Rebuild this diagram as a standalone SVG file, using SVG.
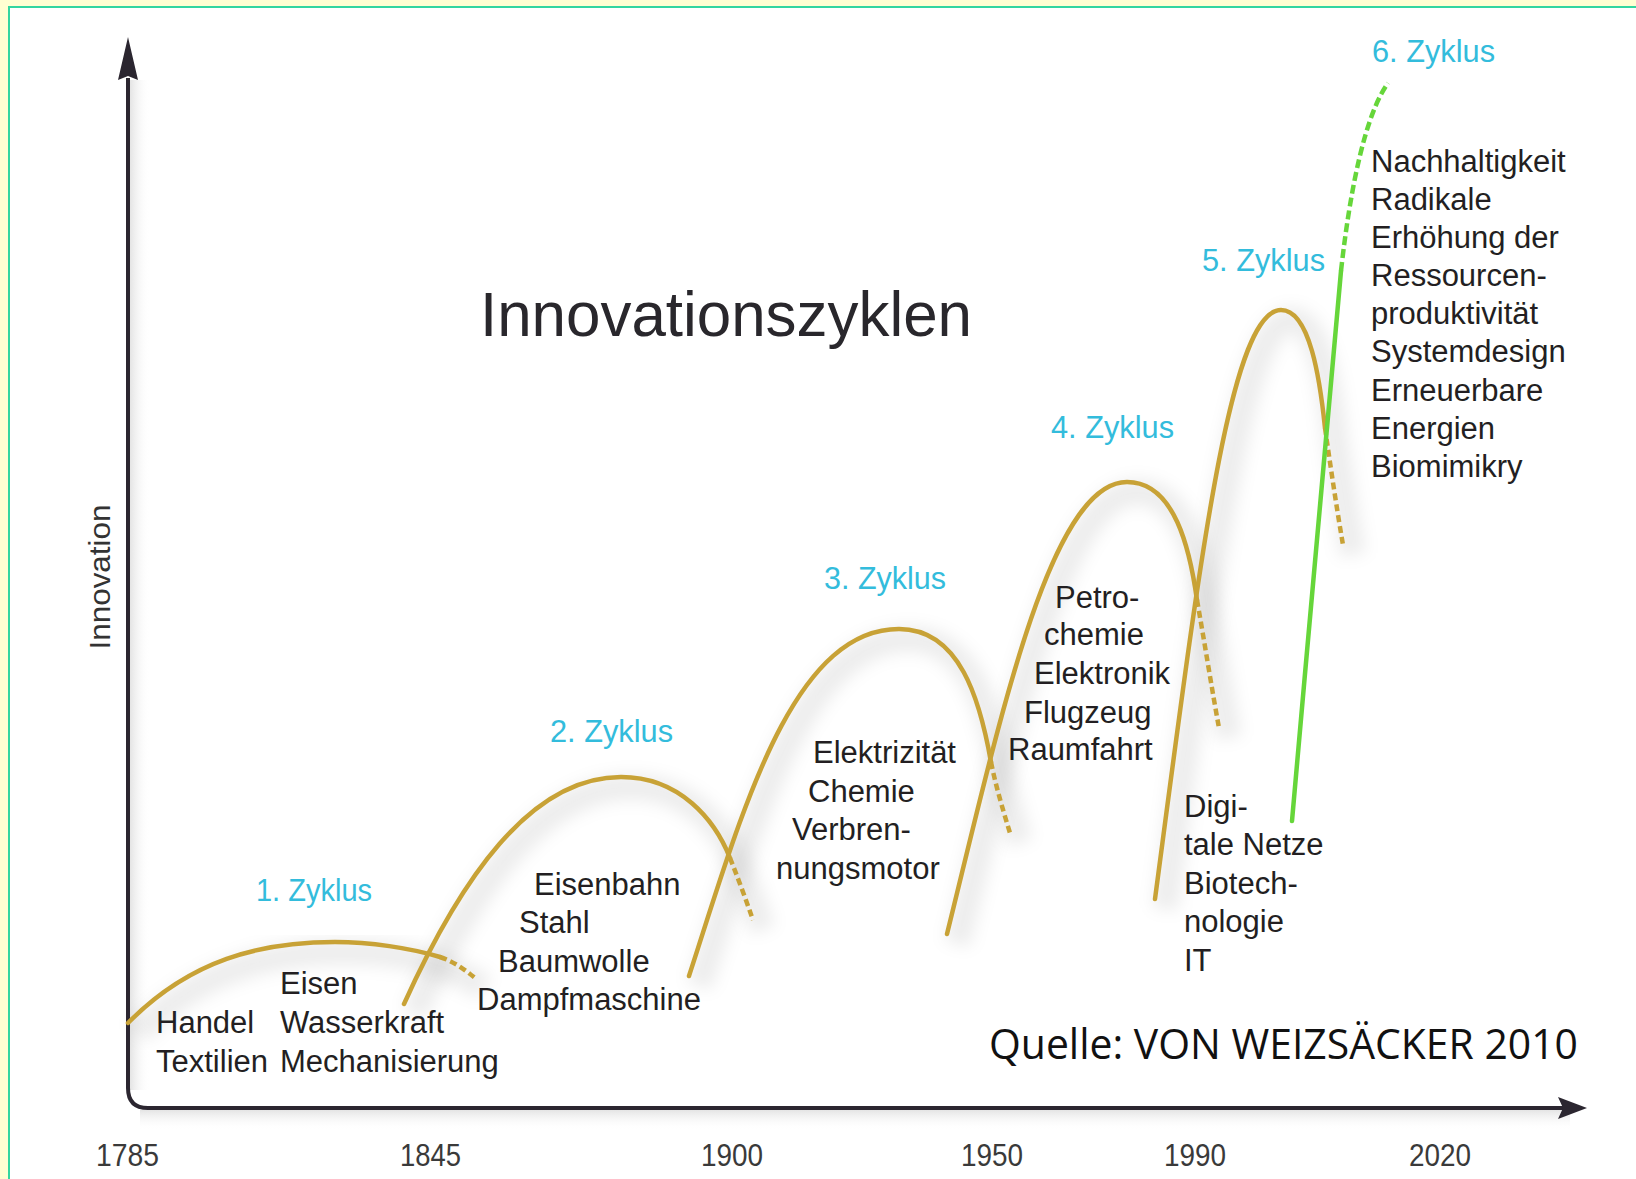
<svg xmlns="http://www.w3.org/2000/svg" width="1636" height="1179" viewBox="0 0 1636 1179">
  <defs>
    <style>
      .lbl { font-family: "Liberation Sans", Arial, sans-serif; font-size: 31px; fill: #231f22; }
      .cyc { font-family: "Liberation Sans", Arial, sans-serif; font-size: 32px; fill: #33bcdc; }
      .yr { font-family: "Liberation Sans", Arial, sans-serif; font-size: 31px; fill: #3a3a3a; }
      .gold { fill: none; stroke: #c8a236; stroke-width: 4.5; stroke-linecap: round; }
      .goldd { fill: none; stroke: #c8a236; stroke-width: 4.5; stroke-dasharray: 7 4; }
      .green { fill: none; stroke: #66d63a; stroke-width: 4.5; stroke-linecap: round; }
      .greend { fill: none; stroke: #66d63a; stroke-width: 4.5; stroke-dasharray: 9 4; }
      .shadow { fill: none; stroke: #000; stroke-opacity: 0.07; stroke-width: 26; filter: url(#blur); }
    </style>
    <filter id="blur" x="-20%" y="-20%" width="140%" height="140%">
      <feGaussianBlur stdDeviation="8"/>
    </filter>
    <linearGradient id="vshade" x1="0" y1="0" x2="1" y2="0">
      <stop offset="0" stop-color="#e4e4e4"/>
      <stop offset="1" stop-color="#ffffff" stop-opacity="0"/>
    </linearGradient>
    <linearGradient id="hshade" x1="0" y1="0" x2="0" y2="1">
      <stop offset="0" stop-color="#e4e4e4"/>
      <stop offset="1" stop-color="#ffffff" stop-opacity="0"/>
    </linearGradient>
  </defs>

  <!-- frame -->
  <rect x="0" y="0" width="1636" height="1179" fill="#ffffd2"/>
  <rect x="9" y="7" width="1640" height="1180" fill="#ffffff" stroke="#33d6a0" stroke-width="2"/>

  <!-- axis shadows -->
  <rect x="130" y="80" width="20" height="1010" fill="url(#vshade)"/>
  <rect x="140" y="1110" width="1430" height="20" fill="url(#hshade)"/>

  <!-- curve shadows -->
  <g id="shadows">
    <path class="shadow" d="M138,1033 C200,970 270,952 345,952 C400,952 440,960 485,988"/>
    <path class="shadow" d="M414,1014 C470,890 540,787 631,787 C690,787 725,830 740,868 C748,888 756,910 763,930"/>
    <path class="shadow" d="M699,986 C750,830 800,639 909,639 C970,639 990,710 1001,772 C1006,797 1013,820 1020,843"/>
    <path class="shadow" d="M957,944 C1010,730 1060,492 1137,492 C1185,492 1200,560 1207,610 C1215,655 1222,700 1229,738"/>
    <path class="shadow" d="M1165,909 C1210,570 1240,320 1291,320 C1320,320 1330,390 1335,438 C1341,480 1347,520 1353,555"/>
  </g>

  <!-- axes -->
  <g id="axes">
    <path d="M128,78 L128,1088 Q128,1108 148,1108 L1565,1108" fill="none" stroke="#2b2630" stroke-width="4"/>
    <polygon points="128,37 138,80 128,76 118,80" fill="#2b2630"/>
    <polygon points="1587,1108 1558,1097 1563,1108 1558,1119" fill="#2b2630"/>
  </g>

  <!-- connectors: innovation cycle curves -->
  <g id="connectors">
    <g id="curve1">
      <path class="gold" d="M128,1023 C190,960 260,942 335,942 C370,942 410,948 440,957"/>
      <path class="goldd" d="M440,957 C455,962 465,970 475,978"/>
    </g>
    <g id="curve2">
      <path class="gold" d="M404,1004 C460,880 530,777 621,777 C680,777 715,820 730,858"/>
      <path class="goldd" d="M730,858 C738,878 746,900 753,920"/>
    </g>
    <g id="curve3">
      <path class="gold" d="M689,976 C740,820 790,629 899,629 C960,629 980,700 991,762"/>
      <path class="goldd" d="M991,762 C996,787 1003,810 1010,833"/>
    </g>
    <g id="curve4">
      <path class="gold" d="M947,934 C1000,720 1050,482 1127,482 C1175,482 1190,550 1197,600"/>
      <path class="goldd" d="M1197,600 C1205,645 1212,690 1219,728"/>
    </g>
    <g id="curve5">
      <path class="gold" d="M1155,899 C1200,560 1230,310 1281,310 C1310,310 1320,380 1325,428"/>
      <path class="goldd" d="M1325,428 C1331,470 1337,510 1343,545"/>
    </g>
    <g id="curve6">
      <path class="green" d="M1292,821 C1310,620 1330,380 1341,271"/>
      <path class="greend" d="M1341,271 C1350,190 1365,115 1388,83"/>
    </g>
  </g>

  <!-- title -->
  <g id="title">
    <text x="480" y="336" font-family="Liberation Sans, Arial, sans-serif" font-size="63" fill="#29272c" textLength="492" lengthAdjust="spacingAndGlyphs">Innovationszyklen</text>
  </g>

  <!-- axis label -->
  <g id="axis-label">
    <text transform="translate(110,577) rotate(-90)" text-anchor="middle" font-family="Liberation Sans, Arial, sans-serif" font-size="30" fill="#333" textLength="145" lengthAdjust="spacingAndGlyphs">Innovation</text>
  </g>

  <!-- year labels -->
  <g id="years">
    <text class="yr" x="96" y="1166" textLength="63" lengthAdjust="spacingAndGlyphs">1785</text>
    <text class="yr" x="400" y="1166" textLength="61" lengthAdjust="spacingAndGlyphs">1845</text>
    <text class="yr" x="701" y="1166" textLength="62" lengthAdjust="spacingAndGlyphs">1900</text>
    <text class="yr" x="961" y="1166" textLength="62" lengthAdjust="spacingAndGlyphs">1950</text>
    <text class="yr" x="1164" y="1166" textLength="62" lengthAdjust="spacingAndGlyphs">1990</text>
    <text class="yr" x="1409" y="1166" textLength="62" lengthAdjust="spacingAndGlyphs">2020</text>
  </g>

  <!-- cycle labels -->
  <g id="cycle1">
    <text class="cyc" x="256" y="901" textLength="116" lengthAdjust="spacingAndGlyphs">1. Zyklus</text>
    <text class="lbl" x="156" y="1033">Handel</text>
    <text class="lbl" x="156" y="1072">Textilien</text>
    <text class="lbl" x="280" y="994">Eisen</text>
    <text class="lbl" x="280" y="1033">Wasserkraft</text>
    <text class="lbl" x="280" y="1072">Mechanisierung</text>
  </g>
  <g id="cycle2">
    <text class="cyc" x="550" y="742" textLength="123" lengthAdjust="spacingAndGlyphs">2. Zyklus</text>
    <text class="lbl" x="534" y="895">Eisenbahn</text>
    <text class="lbl" x="519" y="933">Stahl</text>
    <text class="lbl" x="498" y="972">Baumwolle</text>
    <text class="lbl" x="477" y="1010">Dampfmaschine</text>
  </g>
  <g id="cycle3">
    <text class="cyc" x="824" y="589" textLength="122" lengthAdjust="spacingAndGlyphs">3. Zyklus</text>
    <text class="lbl" x="813" y="763">Elektrizität</text>
    <text class="lbl" x="808" y="802">Chemie</text>
    <text class="lbl" x="792" y="840">Verbren-</text>
    <text class="lbl" x="776" y="879">nungsmotor</text>
  </g>
  <g id="cycle4">
    <text class="cyc" x="1051" y="438" textLength="123" lengthAdjust="spacingAndGlyphs">4. Zyklus</text>
    <text class="lbl" x="1055" y="608">Petro-</text>
    <text class="lbl" x="1044" y="645">chemie</text>
    <text class="lbl" x="1034" y="684">Elektronik</text>
    <text class="lbl" x="1024" y="723">Flugzeug</text>
    <text class="lbl" x="1008" y="760">Raumfahrt</text>
  </g>
  <g id="cycle5">
    <text class="cyc" x="1202" y="271" textLength="123" lengthAdjust="spacingAndGlyphs">5. Zyklus</text>
    <text class="lbl" x="1184" y="817">Digi-</text>
    <text class="lbl" x="1184" y="855">tale Netze</text>
    <text class="lbl" x="1184" y="894">Biotech-</text>
    <text class="lbl" x="1184" y="932">nologie</text>
    <text class="lbl" x="1184" y="971">IT</text>
  </g>
  <g id="cycle6">
    <text class="cyc" x="1372" y="62" textLength="123" lengthAdjust="spacingAndGlyphs">6. Zyklus</text>
    <text class="lbl" x="1371" y="172">Nachhaltigkeit</text>
    <text class="lbl" x="1371" y="210">Radikale</text>
    <text class="lbl" x="1371" y="248">Erhöhung der</text>
    <text class="lbl" x="1371" y="286">Ressourcen-</text>
    <text class="lbl" x="1371" y="324">produktivität</text>
    <text class="lbl" x="1371" y="362">Systemdesign</text>
    <text class="lbl" x="1371" y="401">Erneuerbare</text>
    <text class="lbl" x="1371" y="439">Energien</text>
    <text class="lbl" x="1371" y="477">Biomimikry</text>
  </g>

  <!-- source -->
  <g id="source">
    <text x="989" y="1059" font-family="Open Sans, Liberation Sans, sans-serif" font-size="42" fill="#111" textLength="589" lengthAdjust="spacingAndGlyphs">Quelle: VON WEIZSÄCKER 2010</text>
  </g>
</svg>
